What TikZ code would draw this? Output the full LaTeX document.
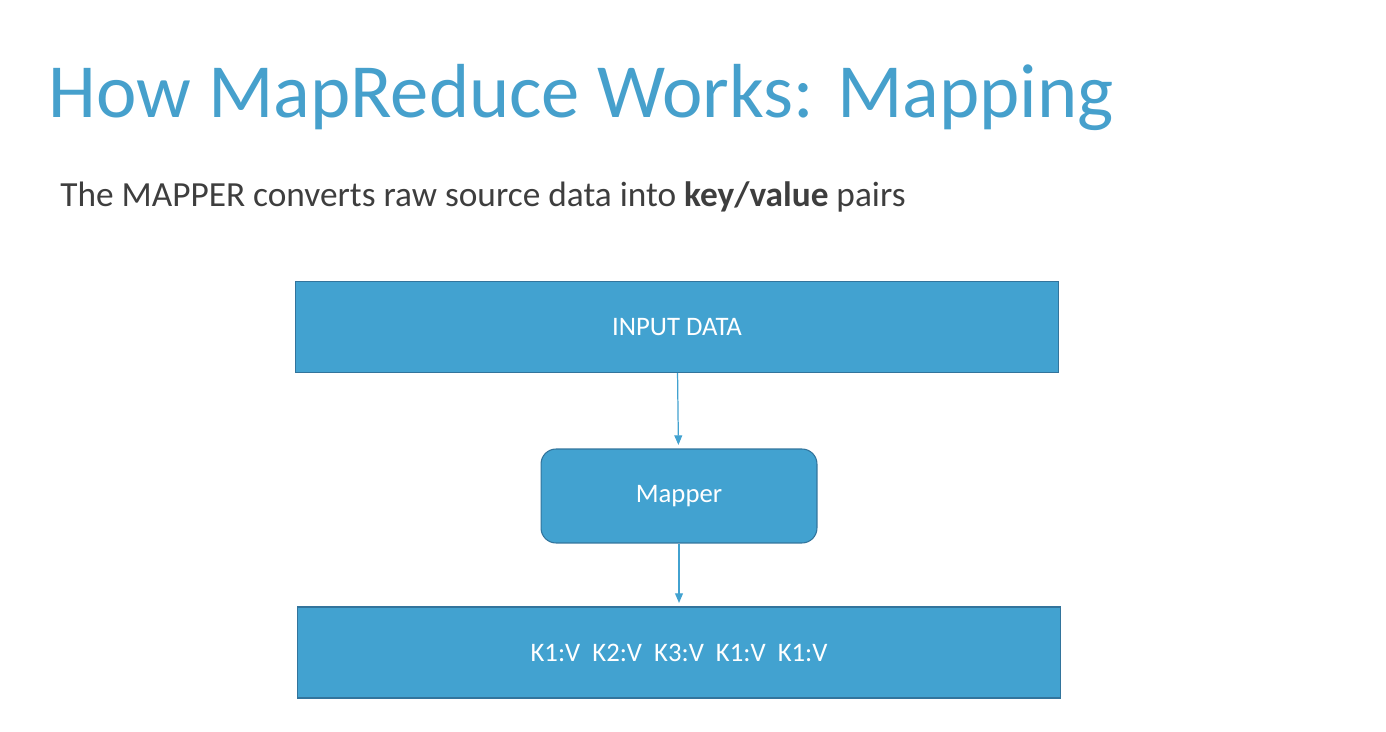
\documentclass[tikz,border=0pt]{standalone}
\usepackage{fontspec}
\setmainfont{Carlito}
\usetikzlibrary{arrows.meta,positioning}
\definecolor{titleblue}{RGB}{70,160,204}
\definecolor{boxblue}{RGB}{66,162,208}
\definecolor{boxedge}{RGB}{50,116,156}
\definecolor{textgray}{RGB}{62,62,62}

\begin{document}
\begin{tikzpicture}[x=0.02cm, y=-0.02cm,
  datablock/.style={rectangle, draw=boxedge, fill=boxblue, line width=0.6pt,
    minimum width=15.28cm, minimum height=1.82cm, inner sep=0pt,
    text=white, font=\fontsize{15.2}{18}\selectfont},
  mapblock/.style={datablock, rounded corners=0.3cm,
    minimum width=5.52cm, minimum height=1.88cm},
  flow/.style={boxblue, line width=0.7pt, shorten >=2pt,
    -{Triangle[width=4.5pt,length=5.5pt]}},
]
  \useasboundingbox (0,0) rectangle (1386,732);

  % Title and subtitle
  \node[anchor=base west, inner sep=0pt, text=titleblue,
    font=\fontsize{43.6}{50}\selectfont] (title) at (48,118)
    {How MapReduce Works: Mapping};
  \node[anchor=base west, inner sep=0pt, text=textgray,
    font=\fontsize{20.1}{24}\selectfont] (subtitle) at (60,207)
    {The MAPPER converts raw source data into \textbf{key/value} pairs};

  % Blocks
  \node[datablock] (input) at (677,327) {INPUT DATA};
  \node[mapblock] (mapper) at (679,496) {Mapper};
  \node[datablock] (pairs) at (679,652.5)
    {K1:V\ \ K2:V\ \ K3:V\ \ K1:V\ \ K1:V};

  % Arrows
  \draw[flow] (input) -- (mapper);
  \draw[flow] (mapper) -- (pairs);
\end{tikzpicture}
\end{document}
